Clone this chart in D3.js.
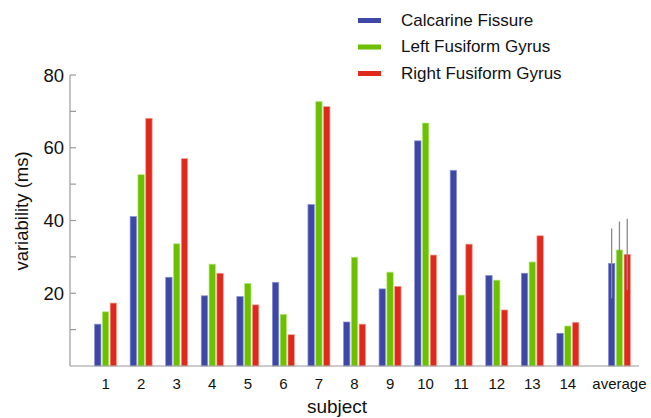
<!DOCTYPE html>
<html>
<head>
<meta charset="utf-8">
<script src="https://cdn.jsdelivr.net/npm/d3@7"></script>
<style>
  body { margin: 0; background: #fff; }
  svg { display: block; font-family: "Liberation Sans", Arial, sans-serif; }
</style>
</head>
<body>
<svg id="chart" width="651" height="418"></svg>
<script>
const subjects = ['1', '2', '3', '4', '5', '6', '7', '8', '9', '10', '11', '12', '13', '14', 'average'];
const slots = [1, 2, 3, 4, 5, 6, 7, 8, 9, 10, 11, 12, 13, 14, 15.45];
const seriesNames = ['Calcarine Fissure', 'Left Fusiform Gyrus', 'Right Fusiform Gyrus'];
const colors = ['#3f47a6', '#6cc000', '#e0291d'];
const edgeColors = ['#8c92d6', '#b4ea7a', '#f59a90'];

const calcarine = [11.5, 41.1, 24.4, 19.3, 19.1, 23.0, 44.4, 12.1, 21.2, 61.9, 53.8, 24.9, 25.5, 9.0, 28.2];
const leftFusiform = [14.9, 52.6, 33.6, 28.0, 22.7, 14.2, 72.7, 29.9, 25.8, 66.8, 19.5, 23.6, 28.6, 11.0, 31.9];
const rightFusiform = [17.3, 68.1, 57.0, 25.5, 16.8, 8.6, 71.3, 11.5, 21.9, 30.5, 33.5, 15.4, 35.8, 12.0, 30.7];
const averageErr = [9.6, 7.8, 9.8];

const yTicks = [10, 20, 30, 40, 50, 60, 70, 80];
const yLabels = [20, 40, 60, 80];

const svg = d3.select('#chart');

const x = d3.scaleLinear().domain([0, 16]).range([70, 639]);
const y = d3.scaleLinear().domain([0, 80]).range([366, 75]);

const barW = 6.4;
const barStep = 7.8;

const series = [calcarine, leftFusiform, rightFusiform];

// bars
series.forEach((vals, s) => {
    svg.append('g')
        .selectAll('rect')
        .data(vals)
        .join('rect')
        .attr('x', (d, i) => x(slots[i]) + (s - 1) * barStep - barW / 2)
        .attr('y', d => y(d))
        .attr('width', barW)
        .attr('height', d => y(0) - y(d))
        .attr('fill', colors[s])
        .attr('stroke', edgeColors[s])
        .attr('stroke-width', 0.7);
});

// error bars on the average group
const avgIdx = subjects.length - 1;
series.forEach((vals, s) => {
    const cx = x(slots[avgIdx]) + (s - 1) * barStep;
    const v = vals[avgIdx];
    svg.append('line')
        .attr('x1', cx).attr('x2', cx)
        .attr('y1', y(v + averageErr[s]))
        .attr('y2', y(v - averageErr[s]))
        .attr('stroke', '#8a8a8a')
        .attr('stroke-width', 1.3);
});

// axes
svg.append('line')
    .attr('x1', x(0)).attr('x2', x(16))
    .attr('y1', y(0)).attr('y2', y(0))
    .attr('stroke', '#9a9a9a').attr('stroke-width', 1.2);

svg.append('line')
    .attr('x1', x(0)).attr('x2', x(0))
    .attr('y1', y(0)).attr('y2', y(80))
    .attr('stroke', '#9a9a9a').attr('stroke-width', 1.2);

svg.append('g')
    .selectAll('line')
    .data(yTicks)
    .join('line')
    .attr('x1', x(0)).attr('x2', x(0) + 6)
    .attr('y1', d => y(d)).attr('y2', d => y(d))
    .attr('stroke', '#9a9a9a').attr('stroke-width', 1.2);

svg.append('g')
    .selectAll('text')
    .data(yLabels)
    .join('text')
    .attr('x', 64)
    .attr('y', d => y(d))
    .attr('dy', '0.36em')
    .attr('text-anchor', 'end')
    .attr('font-size', 18.5)
    .attr('fill', '#111')
    .text(d => d);

svg.append('g')
    .selectAll('text')
    .data(subjects)
    .join('text')
    .attr('x', (d, i) => x(slots[i]))
    .attr('y', 388.5)
    .attr('text-anchor', 'middle')
    .attr('font-size', 15)
    .attr('fill', '#111')
    .text(d => d);

svg.append('text')
    .attr('x', 337)
    .attr('y', 413)
    .attr('text-anchor', 'middle')
    .attr('font-size', 19)
    .attr('fill', '#111')
    .text('subject');

svg.append('text')
    .attr('transform', 'translate(28,211) rotate(-90)')
    .attr('text-anchor', 'middle')
    .attr('font-size', 18.5)
    .attr('fill', '#111')
    .text('variability (ms)');

// legend
const legend = svg.append('g')
    .selectAll('g')
    .data(seriesNames)
    .join('g')
    .attr('transform', (d, i) => `translate(358, ${18 + i * 26.5})`);

legend.append('rect')
    .attr('x', 0).attr('y', 0)
    .attr('width', 23).attr('height', 5)
    .attr('fill', (d, i) => colors[i]);

legend.append('text')
    .attr('x', 43)
    .attr('y', 1.5)
    .attr('dy', '0.36em')
    .attr('font-size', 17)
    .attr('fill', '#111')
    .text(d => d);
</script>
</body>
</html>
